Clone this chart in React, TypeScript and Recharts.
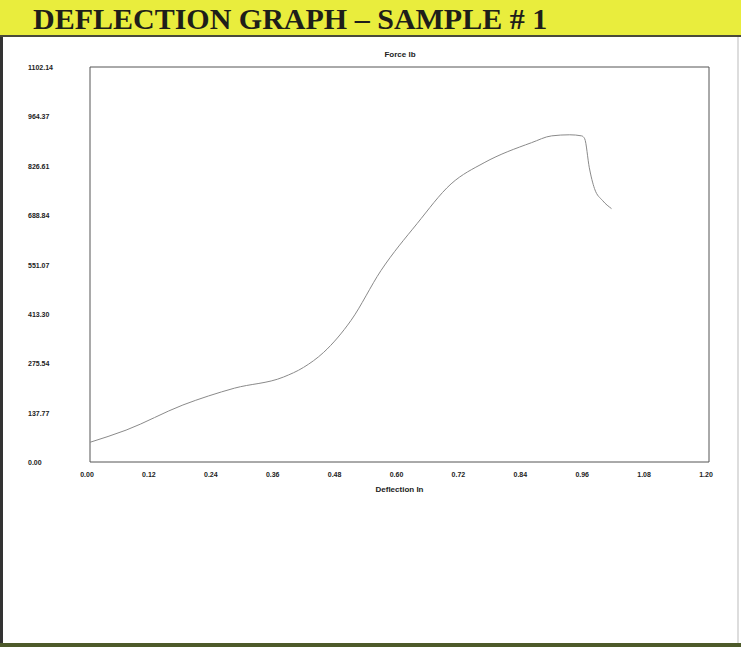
import { LineChart, Line, XAxis, YAxis, ReferenceArea, Label } from 'recharts';

const deflection = [0.0, 0.07, 0.18, 0.28, 0.375, 0.414, 0.453, 0.506, 0.564, 0.634, 0.7, 0.764, 0.856, 0.895, 0.93, 0.953, 0.959, 0.968, 0.978, 0.994, 1.011];
const force = [55, 89, 159, 206, 237, 264, 306, 395, 534, 665, 776, 835, 891, 910, 913, 910, 902, 821, 763, 729, 707];

const xTicks = [0, 0.12, 0.24, 0.36, 0.48, 0.6, 0.72, 0.84, 0.96, 1.08, 1.2];
const yTicks = [0, 137.77, 275.54, 413.3, 551.07, 688.84, 826.61, 964.37, 1102.14];

const data = deflection.map((x, i) => ({ x, force: force[i] }));

const tickFont = { fontFamily: '"Liberation Sans", Arial, sans-serif', fontSize: 7, fontWeight: 700, fill: '#222' };

const YTick = ({ y, payload }: any) => (
  <text x={ 28 } y={ y + 3 } textAnchor="start" { ...tickFont }>{ payload.value.toFixed(2) }</text>
);

const XTick = ({ x, y, payload }: any) => (
  <text x={ x - 3 } y={ y + 7 } textAnchor="middle" { ...tickFont }>{ payload.value.toFixed(2) }</text>
);

const App = () => (
  <div style={ { position: 'absolute', top: 0, left: 0, width: 741, height: 647, background: '#fff', overflow: 'hidden' } }>
    <div style={ {
      position: 'absolute', top: 0, left: 0, width: 741, height: 35,
      background: '#e9ed3d', borderBottom: '2px solid #4a4a3a',
    } }>
      <div style={ {
        position: 'absolute', left: 33, top: 4,
        fontFamily: '"Liberation Serif", "Times New Roman", serif', fontWeight: 700,
        fontSize: 30, color: '#1e1e1a', whiteSpace: 'nowrap', lineHeight: '30px',
      } }>
        DEFLECTION GRAPH – SAMPLE # 1
      </div>
    </div>
    <div style={ { position: 'absolute', top: 37, left: 0, width: 3, height: 610, background: '#333' } } />
    <div style={ { position: 'absolute', top: 37, left: 737, width: 2, height: 607, background: '#ddd' } } />
    <div style={ { position: 'absolute', top: 643, left: 0, width: 741, height: 4, background: '#4d5a2a' } } />
    <div style={ { position: 'absolute', top: 0, left: 0 } }>
      <LineChart width={ 741 } height={ 520 } data={ data } margin={ { top: 67, right: 32, bottom: 28, left: 28 } }>
        <XAxis
          type="number"
          dataKey="x"
          domain={ [0, 1.2] }
          ticks={ xTicks }
          tick={ <XTick /> }
          tickLine={ false }
          axisLine={ false }
          height={ 30 }
        >
          <Label value="Deflection   In" position="insideBottom" offset={ 0 } style={ { ...tickFont, fontSize: 8 } } />
        </XAxis>
        <YAxis
          type="number"
          domain={ [0, 1102.14] }
          ticks={ yTicks }
          tick={ <YTick /> }
          tickLine={ false }
          axisLine={ false }
          width={ 62 }
        />
        <ReferenceArea x1={ 0 } x2={ 1.2 } y1={ 0 } y2={ 1102.14 } fill="none" stroke="#555" strokeWidth={ 1 } />
        <Line type="monotone" dataKey="force" stroke="#8a8a8a" strokeWidth={ 1 } dot={ false } isAnimationActive={ false } />
        <text x={ 400 } y={ 57 } textAnchor="middle" { ...tickFont } fontSize={ 8 }>Force   lb</text>
      </LineChart>
    </div>
  </div>
);

export default App;
